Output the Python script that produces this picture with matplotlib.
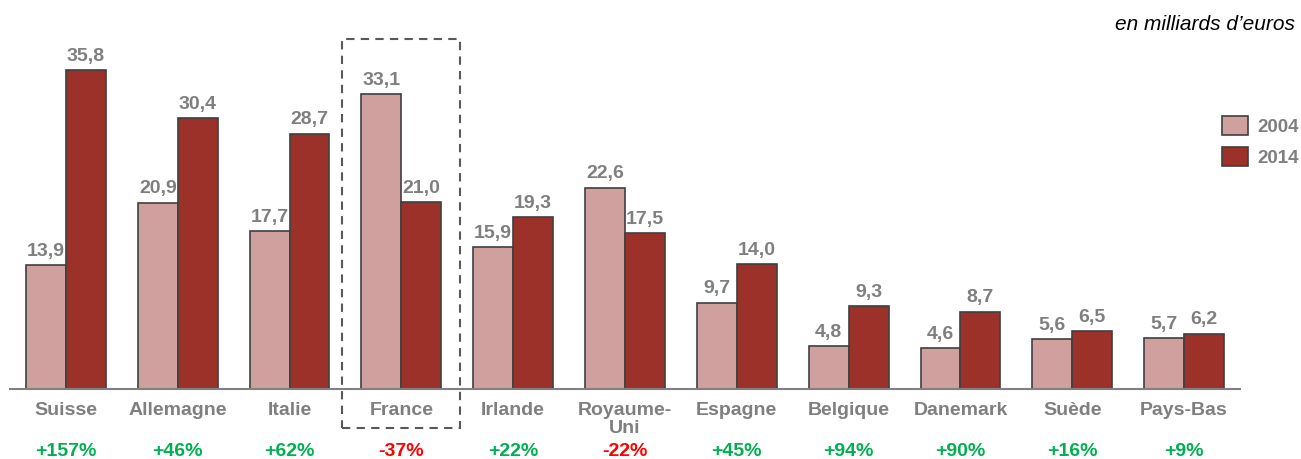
import matplotlib
matplotlib.use("Agg")
import matplotlib.pyplot as plt
import matplotlib.transforms as mtransforms
from matplotlib.patches import Rectangle
import numpy as np

plt.rcParams['font.family'] = ['Liberation Sans', 'DejaVu Sans']

pays = ["Suisse", "Allemagne", "Italie", "France", "Irlande", "Royaume-\nUni",
        "Espagne", "Belgique", "Danemark", "Suède", "Pays-Bas"]
v2004 = [13.9, 20.9, 17.7, 33.1, 15.9, 22.6, 9.7, 4.8, 4.6, 5.6, 5.7]
v2014 = [35.8, 30.4, 28.7, 21.0, 19.3, 17.5, 14.0, 9.3, 8.7, 6.5, 6.2]
evolution = ["+157%", "+46%", "+62%", "-37%", "+22%", "-22%",
             "+45%", "+94%", "+90%", "+16%", "+9%"]

c2004 = "#CFA09E"
c2014 = "#9B3129"
gris = "#7F7F7F"

fig = plt.figure(figsize=(13.01, 4.59), dpi=100)
ax = fig.add_axes([10 / 1301, 70 / 459, 1230 / 1301, 356 / 459])

x = np.arange(len(pays))
w = 0.357
ax.bar(x - w / 2, v2004, w, color=c2004, edgecolor="#404040", linewidth=1.2, label="2004")
ax.bar(x + w / 2, v2014, w, color=c2014, edgecolor="#404040", linewidth=1.2, label="2014")

ax.set_xlim(-0.5, 10.5)
ax.set_ylim(0, 40)

for s in ["top", "right", "left"]:
    ax.spines[s].set_visible(False)
ax.spines["bottom"].set_color("#808080")
ax.spines["bottom"].set_linewidth(1.5)
ax.set_yticks([])
ax.set_xticks([])

def fmt(v):
    return f"{v:.1f}".replace(".", ",")

for i in range(len(pays)):
    ax.annotate(fmt(v2004[i]), (x[i] - w / 2, v2004[i]), xytext=(0, 4),
                textcoords="offset points", ha="center", va="bottom",
                fontsize=14, fontweight="bold", color=gris)
    ax.annotate(fmt(v2014[i]), (x[i] + w / 2, v2014[i]), xytext=(0, 4),
                textcoords="offset points", ha="center", va="bottom",
                fontsize=14, fontweight="bold", color=gris)

trans = mtransforms.blended_transform_factory(ax.transData, fig.transFigure)
for i, p in enumerate(pays):
    fig.text(x[i], 1 - 402 / 459, p, transform=trans, ha="center", va="top",
             fontsize=14, fontweight="bold", color=gris, linespacing=1.05)
    col = "#FF0000" if evolution[i].startswith("-") else "#00B050"
    fig.text(x[i], 1 - 443 / 459, evolution[i], transform=trans, ha="center", va="top",
             fontsize=14, fontweight="bold", color=col)

# cadre pointillé autour de la France
fx0 = 342 / 1301
fx1 = 460 / 1301
fig.patches.append(Rectangle((fx0, 1 - 428 / 459), fx1 - fx0, (428 - 39) / 459,
                             transform=fig.transFigure, fill=False,
                             edgecolor="#595959", linestyle=(0, (4, 3)), linewidth=1.5))

fig.text(1295 / 1301, 1 - 25 / 459, "en milliards d\u2019euros", ha="right", va="center",
         fontsize=15, style="italic", color="black")

leg = fig.legend(loc="upper left", bbox_to_anchor=(1222 / 1301, 1 - 116 / 459),
                 frameon=False, handlelength=1.38, handleheight=1.2, fontsize=13.5,
                 labelspacing=0.6, handletextpad=0.5, borderpad=0, borderaxespad=0)
for t in leg.get_texts():
    t.set_color(gris)
    t.set_fontweight("bold")

fig.savefig("out.png", dpi=100)
